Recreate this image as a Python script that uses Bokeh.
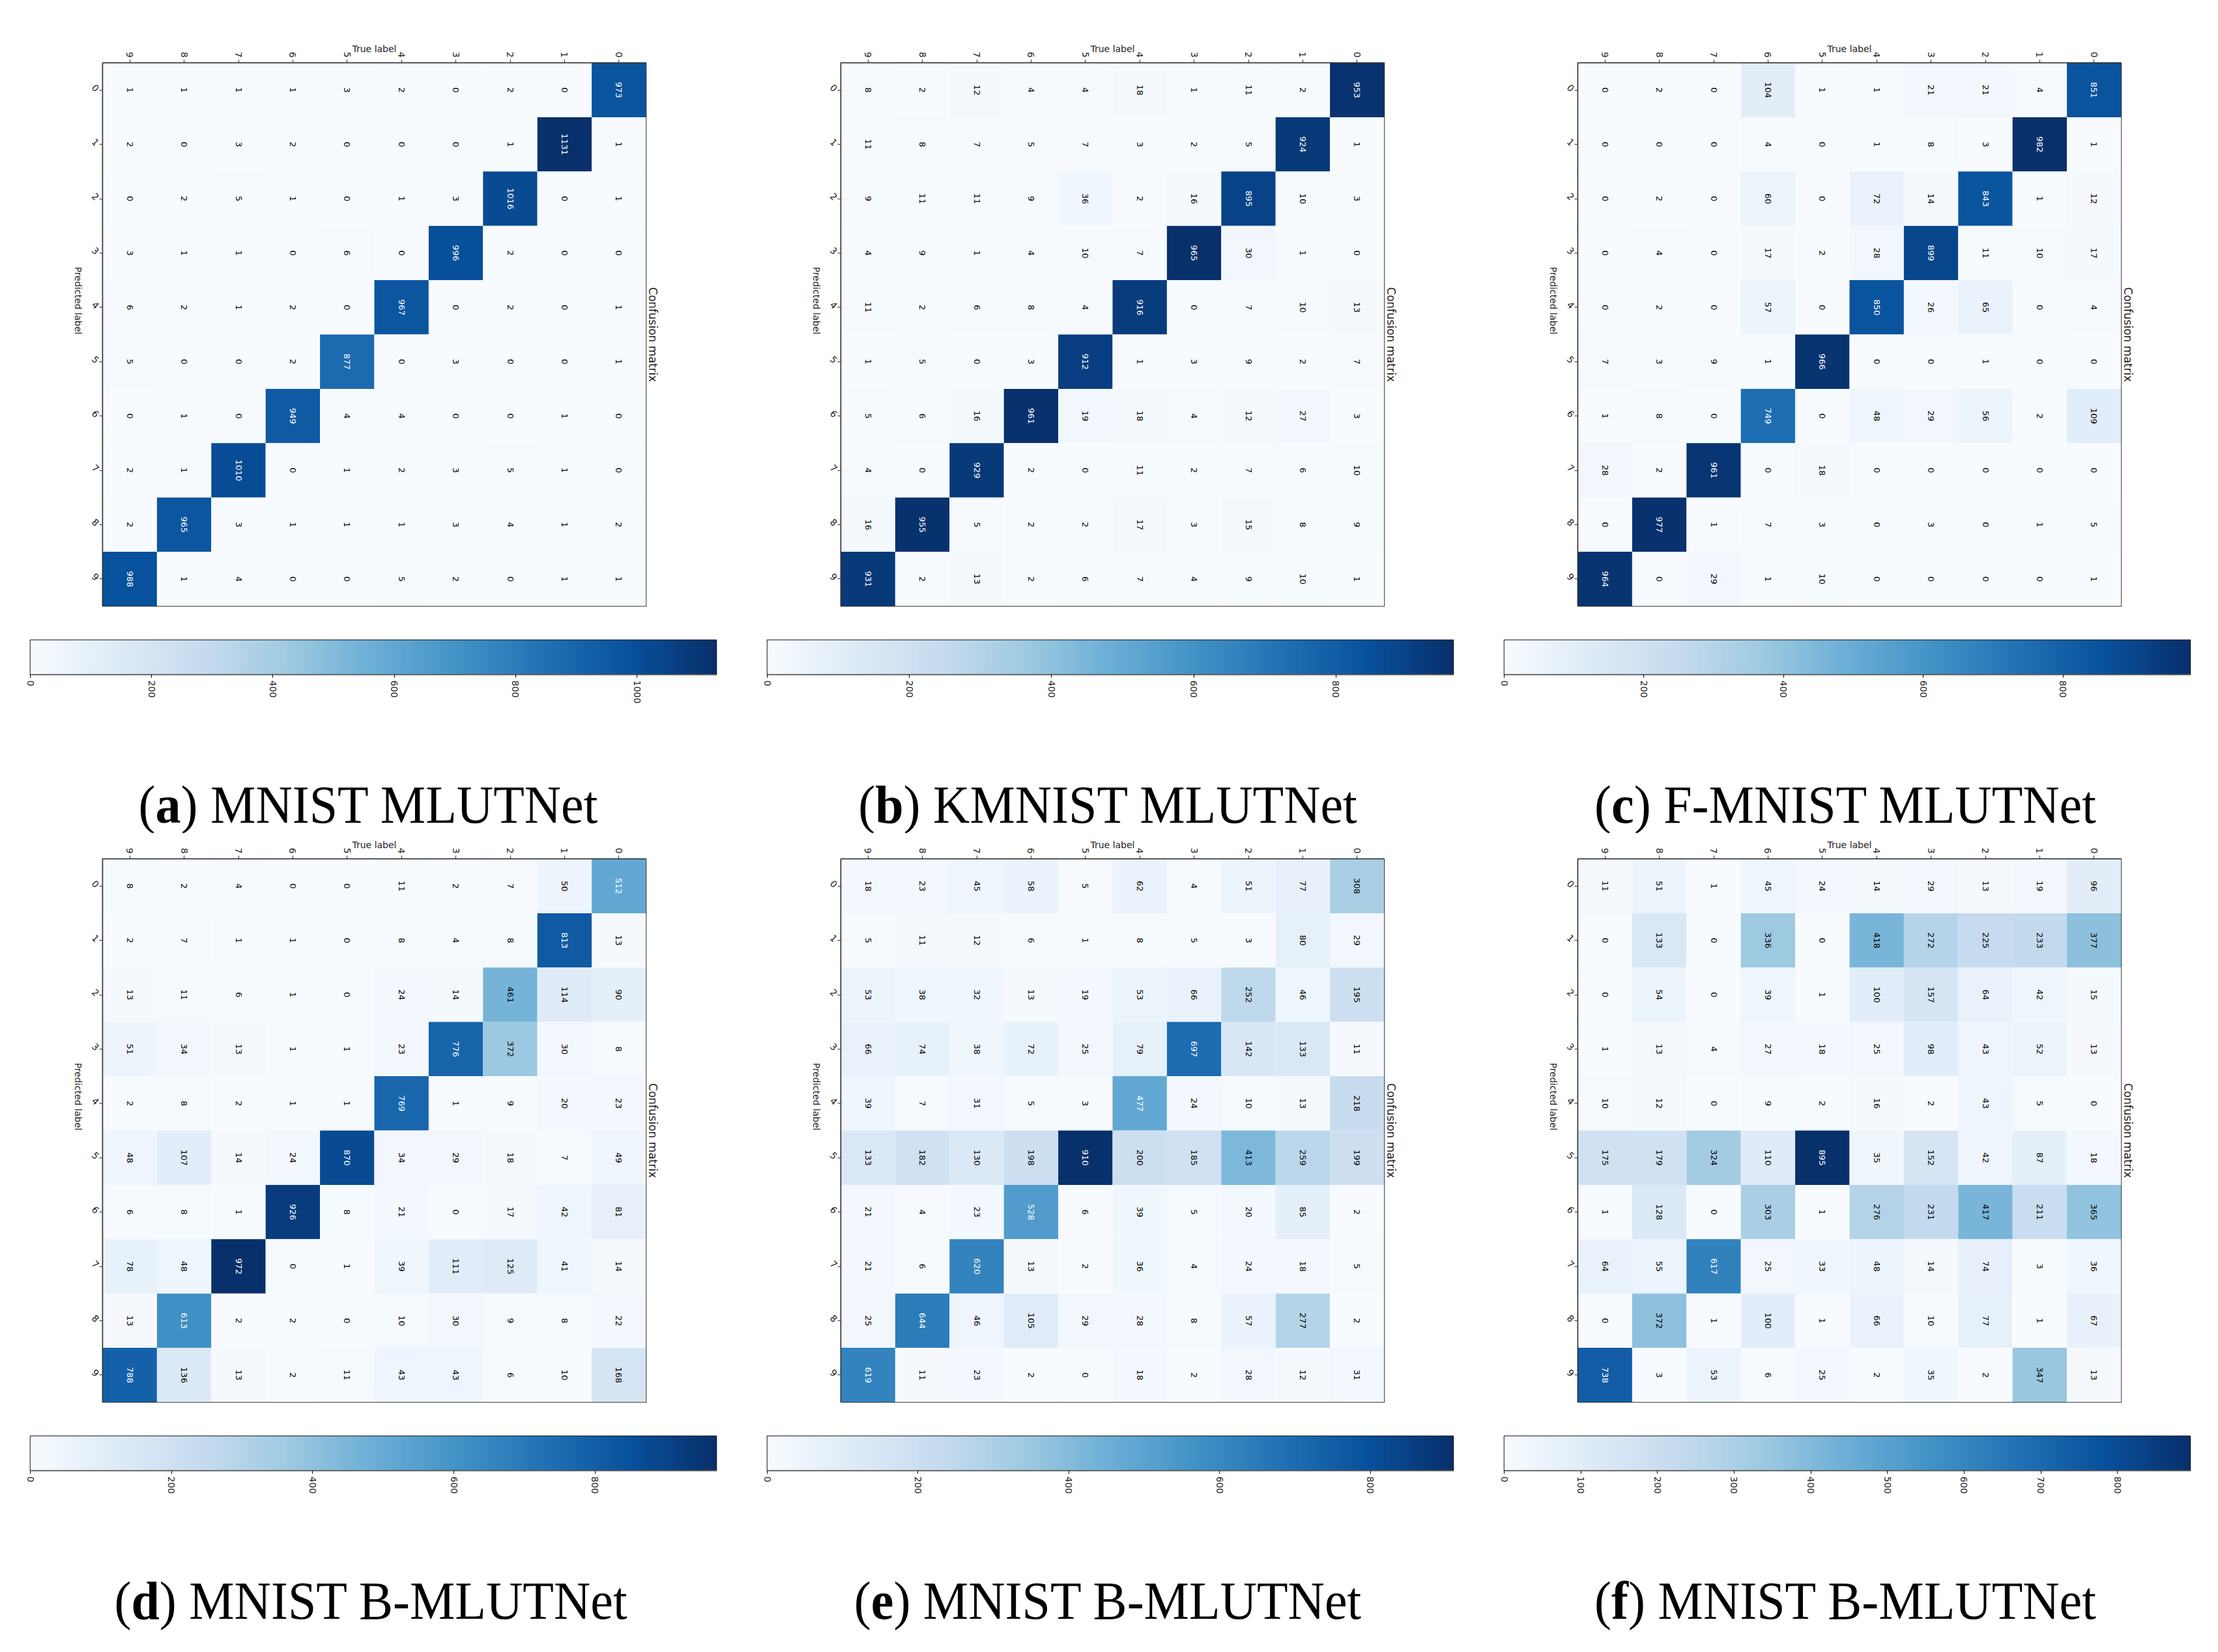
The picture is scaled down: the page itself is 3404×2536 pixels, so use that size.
import math
import numpy as np
from bokeh.plotting import figure
from bokeh.models import ColumnDataSource, LinearColorMapper, FixedTicker, Range1d, Div
from bokeh.layouts import column, row
from bokeh.palettes import Blues256
from bokeh.core.properties import value
from bokeh.embed import file_html
from bokeh.resources import INLINE

# ---------------- data ----------------
col_labels = ["9", "8", "7", "6", "5", "4", "3", "2", "1", "0"]   # left -> right
row_labels = ["0", "1", "2", "3", "4", "5", "6", "7", "8", "9"]   # top -> bottom

cm_a = [
    [1, 1, 1, 1, 3, 2, 0, 2, 0, 973],
    [2, 0, 3, 2, 0, 0, 0, 1, 1131, 1],
    [0, 2, 5, 1, 0, 1, 3, 1016, 0, 1],
    [3, 1, 1, 0, 6, 0, 996, 2, 0, 0],
    [6, 2, 1, 2, 0, 967, 0, 2, 0, 1],
    [5, 0, 0, 2, 877, 0, 3, 0, 0, 1],
    [0, 1, 0, 949, 4, 4, 0, 0, 1, 0],
    [2, 1, 1010, 0, 1, 2, 3, 5, 1, 0],
    [2, 965, 3, 1, 1, 1, 3, 4, 1, 2],
    [988, 1, 4, 0, 0, 5, 2, 0, 1, 1],
]
cm_b = [
    [8, 2, 12, 4, 4, 18, 1, 11, 2, 953],
    [11, 8, 7, 5, 7, 3, 2, 5, 924, 1],
    [9, 11, 11, 9, 36, 2, 16, 895, 10, 3],
    [4, 9, 1, 4, 10, 7, 965, 30, 1, 0],
    [11, 2, 6, 8, 4, 916, 0, 7, 10, 13],
    [1, 5, 0, 3, 912, 1, 3, 9, 2, 7],
    [5, 6, 16, 961, 19, 18, 4, 12, 27, 3],
    [4, 0, 929, 2, 0, 11, 2, 7, 6, 10],
    [16, 955, 5, 2, 2, 17, 3, 15, 8, 9],
    [931, 2, 13, 2, 6, 7, 4, 9, 10, 1],
]
cm_c = [
    [0, 2, 0, 104, 1, 1, 21, 21, 4, 851],
    [0, 0, 0, 4, 0, 1, 8, 3, 982, 1],
    [0, 2, 0, 60, 0, 72, 14, 843, 1, 12],
    [0, 4, 0, 17, 2, 28, 899, 11, 10, 17],
    [0, 2, 0, 57, 0, 850, 26, 65, 0, 4],
    [7, 3, 9, 1, 966, 0, 0, 1, 0, 0],
    [1, 8, 0, 749, 0, 48, 29, 56, 2, 109],
    [28, 2, 961, 0, 18, 0, 0, 0, 0, 0],
    [0, 977, 1, 7, 3, 0, 3, 0, 1, 5],
    [964, 0, 29, 1, 10, 0, 0, 0, 0, 1],
]
cm_d = [
    [8, 2, 4, 0, 0, 11, 2, 7, 50, 512],
    [2, 7, 1, 1, 0, 8, 4, 8, 813, 13],
    [13, 11, 6, 1, 0, 24, 14, 461, 114, 90],
    [51, 34, 13, 1, 1, 23, 776, 372, 30, 8],
    [2, 8, 2, 1, 1, 769, 1, 9, 20, 23],
    [48, 107, 14, 24, 870, 34, 29, 18, 7, 49],
    [6, 8, 1, 926, 8, 21, 0, 17, 42, 81],
    [78, 48, 972, 0, 1, 39, 111, 125, 41, 14],
    [13, 613, 2, 2, 0, 10, 30, 9, 8, 22],
    [788, 136, 13, 2, 11, 43, 43, 6, 10, 168],
]
cm_e = [
    [18, 23, 45, 58, 5, 62, 4, 51, 77, 308],
    [5, 11, 12, 6, 1, 8, 5, 3, 80, 29],
    [53, 38, 32, 13, 19, 53, 66, 252, 46, 195],
    [66, 74, 38, 72, 25, 79, 697, 142, 133, 11],
    [39, 7, 31, 5, 3, 477, 24, 10, 13, 218],
    [133, 182, 130, 198, 910, 200, 185, 413, 259, 199],
    [21, 4, 23, 528, 6, 39, 5, 20, 85, 2],
    [21, 6, 620, 13, 2, 36, 4, 24, 18, 5],
    [25, 644, 46, 105, 29, 28, 8, 57, 277, 2],
    [619, 11, 23, 2, 0, 18, 2, 28, 12, 31],
]
cm_f = [
    [11, 51, 1, 45, 24, 14, 29, 13, 19, 96],
    [0, 133, 0, 336, 0, 418, 272, 225, 233, 377],
    [0, 54, 0, 39, 1, 100, 157, 64, 42, 15],
    [1, 13, 4, 27, 18, 25, 98, 43, 52, 13],
    [10, 12, 0, 9, 2, 16, 2, 43, 5, 0],
    [175, 179, 324, 110, 895, 35, 152, 42, 87, 18],
    [1, 128, 0, 303, 1, 276, 231, 417, 211, 365],
    [64, 55, 617, 25, 33, 48, 14, 74, 3, 36],
    [0, 372, 1, 100, 1, 66, 10, 77, 1, 67],
    [738, 3, 53, 6, 25, 2, 35, 2, 347, 13],
]

cbar_ticks_a = [0, 200, 400, 600, 800, 1000]
cbar_ticks_b = [0, 200, 400, 600, 800]
cbar_ticks_c = [0, 200, 400, 600, 800]
cbar_ticks_d = [0, 200, 400, 600, 800]
cbar_ticks_e = [0, 200, 400, 600, 800]
cbar_ticks_f = [0, 100, 200, 300, 400, 500, 600, 700, 800]

caption_letters = ["a", "b", "c", "d", "e", "f"]
caption_texts = ["MNIST MLUTNet", "KMNIST MLUTNet", "F-MNIST MLUTNet",
                 "MNIST B-MLUTNet", "MNIST B-MLUTNet", "MNIST B-MLUTNet"]

# ---------------- layout constants ----------------
PANEL_W = [1140, 1132, 1124]
M_LEFT = [157, 150, 149]
CB_LEFT = [46, 37, 36]
FRAME = 834
CB_W = 1053
CB_H = 53
CAP_SHIFT = [-5, -6, -2, -1, -6, -2]
CAP_FONT = 78
CAP_SCALE = 1.05
CAP_CENTER = 141

FONT = "DejaVu Sans"
PALETTE = list(Blues256)[::-1]  # light -> dark


def matrix_fig(cm, width, left, top_border):
    vals = np.array(cm)
    vmax = vals.max()
    mapper = LinearColorMapper(palette=PALETTE, low=vals.min(), high=vmax)
    xs, ys, vs, ts, cs = [], [], [], [], []
    for i, r in enumerate(row_labels):
        for j, c in enumerate(col_labels):
            v = int(vals[i, j])
            xs.append(c)
            ys.append(r)
            vs.append(v)
            ts.append(str(v))
            cs.append("white" if v > vmax / 2 else "black")
    src = ColumnDataSource(dict(x=xs, y=ys, v=vs, t=ts, c=cs))
    bottom = 20
    p = figure(width=width, height=top_border + FRAME + bottom,
               x_range=col_labels, y_range=list(reversed(row_labels)),
               x_axis_location="above", output_backend="svg", toolbar_location=None,
               min_border_left=left, min_border_right=width - left - FRAME,
               min_border_top=top_border, min_border_bottom=bottom,
               title="Confusion matrix", title_location="right")
    p.rect(x="x", y="y", width=1, height=1, source=src,
           fill_color={"field": "v", "transform": mapper}, line_color=None)
    p.text(x="x", y="y", text="t", source=src, angle=-math.pi / 2,
           text_align="center", text_baseline="middle", text_color="c",
           text_font=value(FONT), text_font_size="13px")
    p.xgrid.visible = False
    p.ygrid.visible = False
    p.outline_line_color = "#333333"
    p.outline_line_width = 1.5
    for ax in (p.xaxis[0], p.yaxis[0]):
        ax.axis_line_color = "#333333"
        ax.axis_line_width = 1.5
        ax.major_tick_line_color = "#333333"
        ax.major_tick_out = 5
        ax.major_tick_in = 0
        ax.major_label_text_font = FONT
        ax.major_label_text_font_size = "14px"
        ax.major_label_text_color = "#222222"
        ax.axis_label_text_font = FONT
        ax.axis_label_text_font_size = "14px"
        ax.axis_label_text_font_style = "normal"
        ax.axis_label_text_color = "#222222"
        ax.major_label_standoff = 3
    p.xaxis.major_label_orientation = -math.pi / 2
    p.xaxis.axis_label = "True label"
    p.xaxis.axis_label_standoff = -6
    p.yaxis.major_label_orientation = -math.pi / 4
    p.yaxis.axis_label = "Predicted label"
    p.yaxis.axis_label_orientation = -math.pi / 2
    p.yaxis.axis_label_standoff = 13
    p.title.text_font = FONT
    p.title.text_font_size = "17px"
    p.title.text_font_style = "normal"
    p.title.text_color = "#222222"
    p.title.align = "center"
    p.title.standoff = 0
    p.title.offset = 0
    return p, mapper


def cbar_fig(cm, ticks, width, left, mapper):
    vals = np.array(cm)
    low, high = float(vals.min()), float(vals.max())
    top, bot = 32, 60
    p = figure(width=width, height=top + CB_H + bot,
               x_range=Range1d(low, high), y_range=Range1d(0, 1),
               output_backend="svg", toolbar_location=None,
               min_border_left=left, min_border_right=width - left - CB_W,
               min_border_top=top, min_border_bottom=bot)
    grad = np.linspace(low, high, 512).reshape(1, -1)
    p.image(image=[grad], x=low, y=0, dw=high - low, dh=1, color_mapper=mapper)
    p.xgrid.visible = False
    p.ygrid.visible = False
    p.yaxis.visible = False
    p.outline_line_color = "#111111"
    p.outline_line_width = 1.5
    ax = p.xaxis[0]
    ax.ticker = FixedTicker(ticks=ticks)
    ax.minor_tick_line_color = None
    ax.major_tick_out = 5
    ax.major_tick_in = 0
    ax.axis_line_color = "#555555"
    ax.axis_line_width = 1.5
    ax.major_label_orientation = -math.pi / 2
    ax.major_label_text_font = FONT
    ax.major_label_text_font_size = "14px"
    ax.major_label_text_color = "#222222"
    ax.major_label_standoff = 4
    return p


def caption_div(letter, text, width, height, shift):
    html = (
        f'<div style="margin-top:{CAP_CENTER - CAP_FONT // 2}px; width:{width}px; text-align:center; '
        f'position:relative; left:{shift}px; font-family:\'Liberation Serif\', serif; '
        f'font-size:{CAP_FONT}px; line-height:{CAP_FONT}px; color:#000; white-space:nowrap; '
        f'transform:scaleY({CAP_SCALE}); transform-origin:50% 50%;">'
        f'(<b>{letter}</b>) {text}</div>'
    )
    return Div(text=html, width=width, height=height, margin=(0, 0, 0, 0))


cms = [cm_a, cm_b, cm_c, cm_d, cm_e, cm_f]
ticks_all = [cbar_ticks_a, cbar_ticks_b, cbar_ticks_c, cbar_ticks_d, cbar_ticks_e, cbar_ticks_f]

rows = []
for r in range(2):
    panels = []
    for k in range(3):
        idx = r * 3 + k
        w = PANEL_W[k]
        top_border = 96 if r == 0 else 40
        mf, mapper = matrix_fig(cms[idx], w, M_LEFT[k], top_border)
        cf = cbar_fig(cms[idx], ticks_all[idx], w, CB_LEFT[k], mapper)
        cap_h = 183 if r == 0 else 210
        dv = caption_div(caption_letters[idx], caption_texts[idx], w, cap_h, CAP_SHIFT[idx])
        # nesting the colour bar in its own row keeps its frame independent of the matrix frame
        panels.append(column(mf, row(cf, spacing=0), dv, spacing=0))
    rows.append(row(*panels, spacing=0))

layout = column(*rows, spacing=0)

open("out.html", "w").write(file_html(layout, INLINE))
